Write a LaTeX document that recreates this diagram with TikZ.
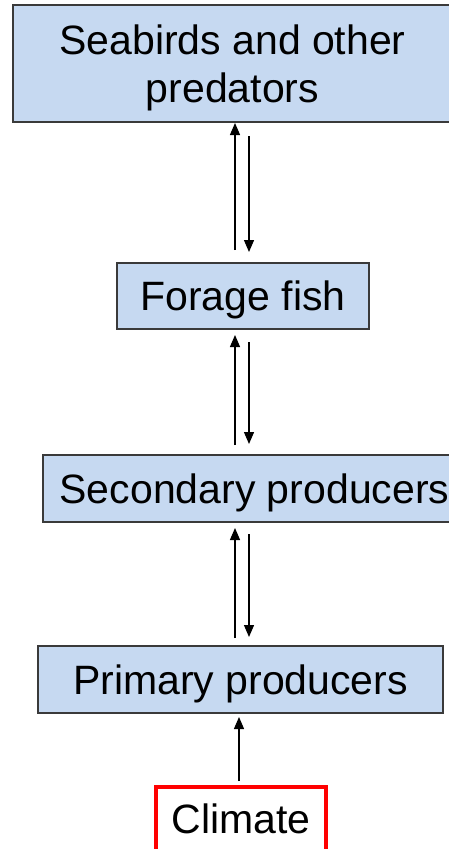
\documentclass[tikz,border=0pt]{standalone}
\usepackage{fontspec}
\setmainfont{Liberation Sans}
\usetikzlibrary{arrows.meta}
\definecolor{boxfill}{HTML}{C6D9F1}
\definecolor{boxline}{HTML}{3A3A3A}
\tikzset{
  level/.style={draw=boxline, line width=1.3pt, fill=boxfill, rectangle, inner sep=0pt, outer sep=0pt,
    font=\fontsize{41}{48}\selectfont, align=center, text depth=0pt},
  driver/.style={draw=red, line width=4pt, fill=white, rectangle, inner sep=0pt, outer sep=0pt,
    font=\fontsize{41}{48}\selectfont, text depth=0pt},
  arr/.style={line width=1.3pt, -{Triangle[length=12pt,width=10pt]}}
}
\begin{document}
\begin{tikzpicture}[x=1pt,y=-1pt]
\useasboundingbox (0,0) rectangle (449,849);
\clip (0,0) rectangle (449,849);
\fill[white] (0,0) rectangle (449,849);
\coordinate (L) at (235,0);
\coordinate (R) at (249,0);
\node[level, minimum width=439pt, minimum height=117pt] (sea) at (232.5,63.5) {Seabirds and other\\predators};
\node[level, minimum width=252pt, minimum height=66pt] (fish) at (243,296) {Forage fish};
\node[level, minimum width=423pt, minimum height=67pt] (sec) at (254.5,488.5) {Secondary producers};
\node[level, minimum width=405pt, minimum height=67pt] (prim) at (240.5,679.5) {Primary producers};
\node[driver, minimum width=170pt, minimum height=64pt] (clim) at (241,819) {Climate};
% sea <-> fish
\draw[arr, shorten <=13pt, shorten >=1pt] (fish.north -| L) -- (sea.south -| L);
\draw[arr, shorten <=14pt, shorten >=11pt] (sea.south -| R) -- (fish.north -| R);
% fish <-> sec
\draw[arr, shorten <=10pt, shorten >=6pt] (sec.north -| L) -- (fish.south -| L);
\draw[arr, shorten <=13pt, shorten >=11pt] (fish.south -| R) -- (sec.north -| R);
% sec <-> prim
\draw[arr, shorten <=8pt, shorten >=6pt] (prim.north -| L) -- (sec.south -| L);
\draw[arr, shorten <=12pt, shorten >=9pt] (sec.south -| R) -- (prim.north -| R);
% climate -> prim
\coordinate (C) at (239,0);
\draw[arr, shorten <=6pt, shorten >=4pt] (clim.north -| C) -- (prim.south -| C);
\end{tikzpicture}
\end{document}
